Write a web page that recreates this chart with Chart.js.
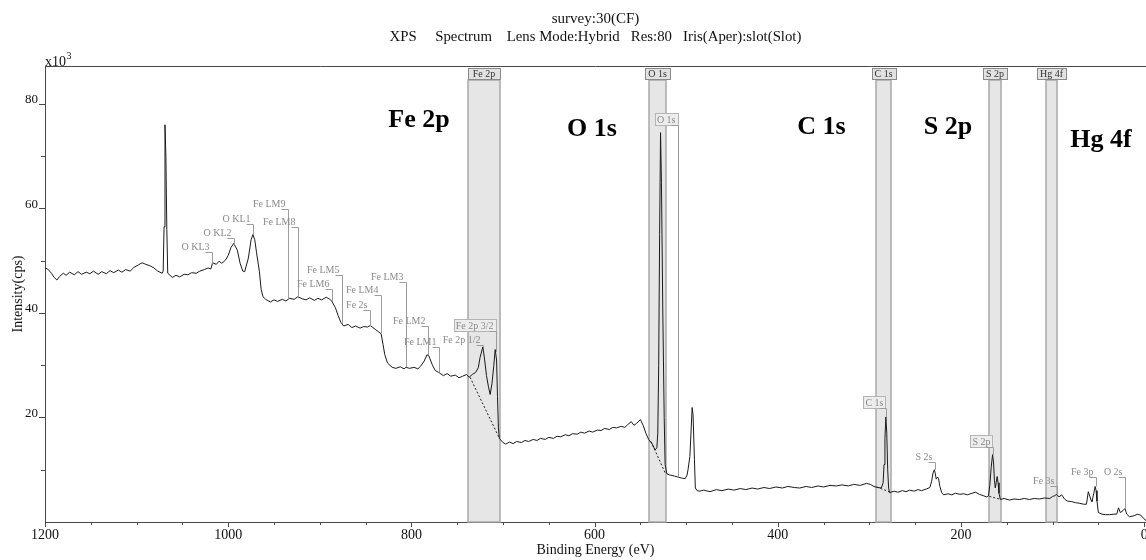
<!DOCTYPE html>
<html>
<head>
<meta charset="utf-8">
<title>survey:30(CF)</title>
<script src="https://cdn.jsdelivr.net/npm/chart.js@4.4.1/dist/chart.umd.min.js"></script>
<style>
  html, body { margin: 0; padding: 0; background: #fff; }
  canvas { display: block; }
</style>
</head>
<body>
<canvas id="survey" width="1146" height="560"></canvas>
<script>
// survey scan: binding energy (eV) against intensity (x10^3 cps)
const energy = [
  1200, 1197, 1193, 1190, 1187, 1184, 1180, 1177, 1173, 1168,
  1164, 1160, 1155, 1151, 1147, 1142, 1138, 1133, 1129, 1125,
  1120, 1116, 1112, 1107, 1103, 1098, 1094, 1090, 1085, 1081,
  1077, 1072, 1071, 1070, 1069, 1068, 1067, 1066, 1061, 1057,
  1053, 1048, 1044, 1040, 1035, 1031, 1026, 1022, 1019, 1017,
  1013, 1010, 1007, 1003, 1000, 997, 994, 990, 987, 984,
  982, 978, 975, 973, 971, 969, 966, 964, 962, 959,
  954, 950, 946, 941, 937, 933, 928, 924, 919, 915,
  911, 906, 902, 898, 893, 889, 887, 883, 880, 877,
  874, 869, 865, 861, 856, 852, 848, 845, 842, 839,
  836, 833, 831, 829, 826, 821, 817, 812, 808, 806,
  802, 797, 793, 790, 786, 783, 781, 777, 774, 770,
  765, 761, 757, 752, 748, 744, 740, 737, 733, 730,
  727, 725, 722, 720, 718, 716, 714, 712, 710, 708.5,
  707, 706, 705, 704, 700, 697, 693, 689, 685, 680,
  676, 672, 667, 663, 659, 654, 650, 645, 641, 637,
  632, 628, 624, 619, 615, 611, 606, 602, 597, 593,
  589, 584, 580, 576, 571, 567, 564, 560, 557, 554,
  550, 547, 544, 541, 537, 534, 532, 531, 530, 529,
  528, 527, 525.5, 524, 523, 521, 518, 513, 509, 505,
  501, 499, 498, 496, 494.5, 493.5, 492.5, 491, 490, 488,
  485, 481, 474, 467, 461, 454, 448, 441, 435, 428,
  422, 415, 409, 402, 395, 389, 382, 376, 369, 363,
  356, 350, 343, 336, 330, 323, 317, 310, 303, 299,
  295, 291, 287, 285, 284, 283, 282, 281, 280, 279,
  278, 273, 269, 264, 260, 256, 251, 247, 243, 238,
  234, 232, 230.5, 229, 228, 227, 225.5, 224.5, 223, 221,
  219, 214, 210, 206, 201, 197, 193, 188, 184, 180,
  175, 172, 170, 168.5, 167, 165.5, 164.5, 163.5, 162.5, 161.5,
  160.5, 159.5, 158.5, 157, 153, 147, 142, 136, 131, 125,
  120, 114, 109, 103, 100, 98, 95.5, 93, 90, 87,
  84, 79, 75, 71, 66, 63, 61, 58, 57, 55,
  53.5, 52.5, 51.5, 50, 46, 42, 38, 33, 30, 28,
  26, 23, 21, 19, 16, 11, 7, 4, 1.5, -1,
  -2
];
const intensity = [
  48.6, 48.4, 47.6, 46.8, 46.3, 47.0, 47.6, 47.2, 47.8, 47.3,
  47.9, 47.4, 47.8, 47.5, 48.0, 47.4, 47.9, 47.5, 48.1, 47.7,
  48.2, 47.8, 48.3, 48.0, 48.7, 49.2, 49.6, 49.3, 49.0, 48.6,
  48.0, 47.6, 48.0, 56.5, 76.0, 69.8, 56.0, 47.6, 46.8, 47.2,
  46.9, 47.4, 47.3, 47.7, 47.6, 48.0, 48.3, 48.6, 48.4, 49.6,
  49.3, 49.9, 49.5, 50.1, 51.0, 52.5, 53.3, 52.0, 49.5, 48.0,
  47.9, 50.5, 54.0, 55.0, 54.0, 51.5, 48.0, 44.5, 43.1, 42.6,
  42.1, 42.5, 42.2, 42.6, 42.3, 42.8, 42.6, 43.1, 42.7, 42.5,
  42.9, 42.4, 42.8, 42.5, 43.0, 42.6, 42.3, 41.0, 39.5, 38.2,
  37.5, 37.8, 37.2, 37.5, 37.1, 37.4, 37.3, 37.6, 37.2, 36.8,
  36.4, 36.0, 34.0, 32.0, 30.4, 29.6, 29.4, 29.7, 29.3, 29.6,
  29.4, 29.6, 29.3, 29.8, 30.8, 32.0, 31.8, 30.0, 29.0, 28.6,
  28.0, 28.4, 27.9, 28.1, 27.6, 27.9, 28.2, 27.7, 28.3, 28.6,
  29.5, 31.5, 33.5, 31.0, 28.0, 26.0, 24.4, 26.5, 30.0, 33.0,
  31.0, 24.0, 18.0, 16.0, 15.2, 14.9, 15.3, 15.0, 15.4, 15.2,
  15.6, 15.4, 15.8, 15.6, 16.0, 15.8, 16.2, 16.0, 16.4, 16.3,
  16.7, 16.5, 16.9, 16.8, 17.2, 17.0, 17.4, 17.2, 17.6, 17.5,
  17.9, 17.7, 18.1, 18.0, 18.3, 18.1, 18.6, 19.2, 18.5, 18.9,
  19.6, 18.5, 17.0, 15.8, 14.9, 13.8, 14.2, 17.0, 30.0, 55.0,
  74.5, 65.0, 40.0, 20.0, 11.0, 9.2, 9.0, 8.8, 8.6, 8.4,
  8.3, 9.0, 10.0, 12.5, 18.0, 21.9, 20.5, 12.0, 6.5, 6.0,
  5.9, 6.1, 5.8, 6.2, 6.0, 6.3, 6.1, 6.4, 6.2, 6.5,
  6.3, 6.6, 6.4, 6.7, 6.5, 6.8, 6.6, 6.5, 6.8, 6.6,
  6.9, 6.7, 7.0, 6.9, 7.1, 6.9, 7.2, 7.0, 7.4, 7.2,
  6.8, 6.6, 6.5, 7.5, 11.0, 16.0, 20.1, 17.0, 10.0, 6.5,
  5.6, 5.9, 5.7, 6.0, 5.8, 6.1, 5.9, 6.2, 6.0, 6.3,
  6.6, 7.8, 9.4, 10.0, 9.2, 8.2, 8.6, 8.3, 6.8, 5.6,
  5.2, 5.4, 5.2, 5.5, 5.3, 5.4, 5.2, 5.5, 5.7, 5.3,
  5.0, 4.8, 5.0, 7.0, 10.5, 12.9, 11.5, 8.0, 6.5, 7.6,
  8.7, 7.5, 5.5, 4.3, 4.5, 4.2, 4.4, 4.3, 4.5, 4.3,
  4.5, 4.4, 4.6, 4.5, 4.9, 5.0, 5.3, 4.8, 5.2, 4.4,
  4.0, 3.9, 3.7, 3.6, 3.4, 3.4, 5.8, 4.2, 3.9, 5.5,
  6.8, 6.0, 4.0, 1.8, 1.5, 1.4, 1.4, 1.5, 1.5, 2.7,
  1.8, 2.2, 2.6, 1.5, 1.0, 1.2, 1.5, 1.3, 0.9, 0.4,
  0.3
];

// axis labels
const xTicks = [1200, 1000, 800, 600, 400, 200, 0];
const yTicks = [20, 40, 60, 80];

// integration windows (eV)
const regionNames = ['Fe 2p', 'O 1s', 'C 1s', 'S 2p', 'Hg 4f'];
const regionFrom  = [738.5, 540.6, 292.5, 169.1, 106.9];
const regionTo    = [703.0, 521.7, 276.7, 156.0, 95.5];

// linear backgrounds under the fitted peaks
const bgStartE = [736, 538.4, 292, 169];
const bgStartI = [27.7, 15.4, 6.7, 4.9];
const bgEndE   = [704.4, 523, 277, 158];
const bgEndI   = [16.2, 9.4, 5.7, 4.4];

// peak id tags: energy of the drop line, where it ends, and the tag baseline
const peakTags   = ['O KL3', 'O KL2', 'O KL1', 'Fe LM9', 'Fe LM8', 'Fe LM6', 'Fe LM5', 'Fe LM4', 'Fe 2s', 'Fe LM3',
                    'Fe LM2', 'Fe LM1', 'Fe 2p 1/2', 'Fe 2p 3/2', 'O 1s', 'C 1s', 'S 2s', 'S 2p', 'Fe 3s', 'Fe 3p', 'O 2s'];
const peakEnergy = [1017.7, 993.6, 972.9, 934.7, 923.8, 886.7, 875.8, 833.2, 845.2, 805.9,
                    781.9, 769.9, 721.8, 707.5, 508.5, 281.9, 228.6, 165.3, 95.2, 52.8, 21.1];
const peakEnd    = [49.4, 53.0, 55.0, 42.6, 43.1, 42.3, 37.9, 36.1, 37.5, 29.6,
                    31.9, 28.6, 33.5, 32.5, 8.5, 20.1, 10.0, 12.9, 5.2, 6.8, 2.7];
const tagLevel   = [52.1, 54.7, 57.4, 60.3, 56.8, 45.0, 47.7, 43.8, 41.0, 46.3,
                    37.9, 33.9, 34.3, 37.0, 76.3, 22.2, 11.9, 14.8, 7.3, 9.0, 9.0];
const boxedTags  = ['Fe 2p 3/2', 'O 1s', 'C 1s', 'S 2p'];

// element headings
const bandNames  = ['Fe 2p', 'O 1s', 'C 1s', 'S 2p', 'Hg 4f'];
const bandEnergy = [791.7, 602.8, 352.3, 214.2, 47.2];
const bandLevel  = [75.6, 73.9, 74.2, 74.2, 71.8];

const SERIF = '"Liberation Serif", "Times New Roman", serif';

const spectrum = energy.map((e, i) => ({x: e, y: intensity[i]}));

const backgrounds = bgStartE.map((e, i) => ({
  data: [{x: e, y: bgStartI[i]}, {x: bgEndE[i], y: bgEndI[i]}],
  borderColor: '#222',
  borderWidth: 1,
  borderDash: [2, 2],
  pointRadius: 0,
  fill: false
}));

const marks = {
  id: 'marks',
  beforeDatasetsDraw(chart) {
    const {ctx, chartArea: a, scales: {x}} = chart;
    ctx.save();
    ctx.font = '10px ' + SERIF;
    ctx.textAlign = 'center';
    for (let i = 0; i < regionNames.length; i++) {
      const x0 = Math.round(x.getPixelForValue(regionFrom[i]));
      const x1 = Math.round(x.getPixelForValue(regionTo[i]));
      const top = a.top + 14;
      ctx.fillStyle = '#e6e6e6';
      ctx.fillRect(x0, top, x1 - x0, a.bottom - top);
      ctx.strokeStyle = '#a9a9a9';
      ctx.lineWidth = 1.5;
      ctx.strokeRect(x0, top, x1 - x0, a.bottom - top);

      // tag sitting on top of the window
      const cx = (x0 + x1) / 2;
      const w = Math.round(Math.max(x1 - x0, ctx.measureText(regionNames[i]).width + 6));
      const lx = Math.round(cx - w / 2) + 0.5;
      ctx.fillStyle = '#e2e2e2';
      ctx.fillRect(lx, a.top + 2.5, w, 11);
      ctx.lineWidth = 1;
      ctx.strokeStyle = '#8a8a8a';
      ctx.strokeRect(lx, a.top + 2.5, w, 11);
      ctx.fillStyle = '#333';
      ctx.fillText(regionNames[i], cx, a.top + 11);
    }
    ctx.restore();
  },
  afterDatasetsDraw(chart) {
    const {ctx, scales: {x, y}} = chart;
    ctx.save();
    ctx.font = '10px ' + SERIF;
    ctx.textAlign = 'right';
    ctx.lineWidth = 1;
    for (let i = 0; i < peakTags.length; i++) {
      const px = Math.round(x.getPixelForValue(peakEnergy[i])) + 0.5;
      const py = y.getPixelForValue(peakEnd[i]);
      const ly = Math.round(y.getPixelForValue(tagLevel[i]));
      const right = px - 3;
      const tw = ctx.measureText(peakTags[i]).width;
      if (boxedTags.includes(peakTags[i])) {
        ctx.fillStyle = '#ededed';
        ctx.fillRect(Math.round(right - tw - 2) + 0.5, ly - 9.5, Math.round(tw + 4), 12);
        ctx.strokeStyle = '#b4b4b4';
        ctx.strokeRect(Math.round(right - tw - 2) + 0.5, ly - 9.5, Math.round(tw + 4), 12);
      }
      ctx.fillStyle = '#8a8a8a';
      ctx.fillText(peakTags[i], right, ly);
      ctx.strokeStyle = '#9c9c9c';
      ctx.beginPath();
      ctx.moveTo(right - 4, ly + 2.5);
      ctx.lineTo(px, ly + 2.5);
      ctx.lineTo(px, py);
      ctx.stroke();
    }

    ctx.font = 'bold 26px ' + SERIF;
    ctx.textAlign = 'center';
    ctx.fillStyle = '#000';
    for (let i = 0; i < bandNames.length; i++) {
      ctx.fillText(bandNames[i], x.getPixelForValue(bandEnergy[i]), y.getPixelForValue(bandLevel[i]));
    }
    ctx.restore();
  },
  afterDraw(chart) {
    const {ctx, chartArea: a, scales: {x, y}} = chart;
    ctx.save();
    ctx.strokeStyle = '#4a4a4a';
    ctx.lineWidth = 1;
    ctx.beginPath();
    // frame along the top
    ctx.moveTo(a.left, a.top + 0.5);
    ctx.lineTo(a.right, a.top + 0.5);
    // energy ticks every 50 eV, longer ones under the labels
    for (let e = 0; e <= 1200; e += 50) {
      const px = Math.round(x.getPixelForValue(e)) + 0.5;
      ctx.moveTo(px, a.bottom);
      ctx.lineTo(px, a.bottom + (e % 200 === 0 ? 5 : 3));
    }
    // intensity ticks every 10k
    for (let v = 10; v <= 80; v += 10) {
      const py = Math.round(y.getPixelForValue(v)) + 0.5;
      ctx.moveTo(a.left - (v % 20 === 0 ? 6 : 4), py);
      ctx.lineTo(a.left, py);
    }
    ctx.stroke();

    // multiplier on the intensity axis
    ctx.fillStyle = '#111';
    ctx.textAlign = 'left';
    ctx.font = '14px ' + SERIF;
    ctx.fillText('x10', a.left, a.top);
    const w = ctx.measureText('x10').width;
    ctx.font = '10px ' + SERIF;
    ctx.fillText('3', a.left + w + 0.5, a.top - 7);
    ctx.restore();
  }
};

new Chart(document.getElementById('survey'), {
  type: 'line',
  data: {
    datasets: [{
      data: spectrum,
      borderColor: '#1a1a1a',
      borderWidth: 1,
      pointRadius: 0,
      tension: 0,
      fill: false
    }].concat(backgrounds)
  },
  options: {
    responsive: false,
    animation: false,
    events: [],
    layout: {padding: 0},
    plugins: {
      legend: {display: false},
      tooltip: {enabled: false},
      title: {
        display: true,
        text: 'survey:30(CF)',
        fullSize: false,
        color: '#111',
        font: {family: SERIF, size: 15, weight: 'normal', lineHeight: 1},
        padding: {top: 12, bottom: 0}
      },
      subtitle: {
        display: true,
        text: 'XPS     Spectrum    Lens Mode:Hybrid   Res:80   Iris(Aper):slot(Slot)',
        fullSize: false,
        color: '#111',
        font: {family: SERIF, size: 14.8, lineHeight: 1},
        padding: {top: 3, bottom: 21.2}
      }
    },
    scales: {
      x: {
        type: 'linear',
        reverse: true,
        min: -2,
        max: 1200,
        afterBuildTicks: s => { s.ticks = xTicks.map(v => ({value: v})); },
        afterFit: s => { s.height = 38; s.paddingLeft = 0; s.paddingRight = 0; },
        border: {color: '#4a4a4a'},
        grid: {display: true, drawOnChartArea: false, drawTicks: false},
        ticks: {
          autoSkip: false,
          maxRotation: 0,
          padding: 5,
          color: '#111',
          font: {family: SERIF, size: 14},
          callback: v => v
        },
        title: {
          display: true,
          text: 'Binding Energy (eV)',
          color: '#111',
          font: {family: SERIF, size: 14},
          padding: {top: 0, bottom: 1}
        }
      },
      y: {
        min: 0,
        max: 87.25,
        afterBuildTicks: s => { s.ticks = yTicks.map(v => ({value: v})); },
        afterFit: s => { s.width = 45; s.paddingTop = 0; s.paddingBottom = 0; },
        border: {color: '#4a4a4a'},
        grid: {display: true, drawOnChartArea: false, drawTicks: false},
        ticks: {
          padding: 7,
          labelOffset: -4,
          color: '#111',
          font: {family: SERIF, size: 13},
          callback: v => v
        },
        title: {
          display: true,
          text: 'Intensity(cps)',
          color: '#111',
          font: {family: SERIF, size: 14},
          padding: {top: 10, bottom: 0}
        }
      }
    }
  },
  plugins: [marks]
});
</script>
</body>
</html>
